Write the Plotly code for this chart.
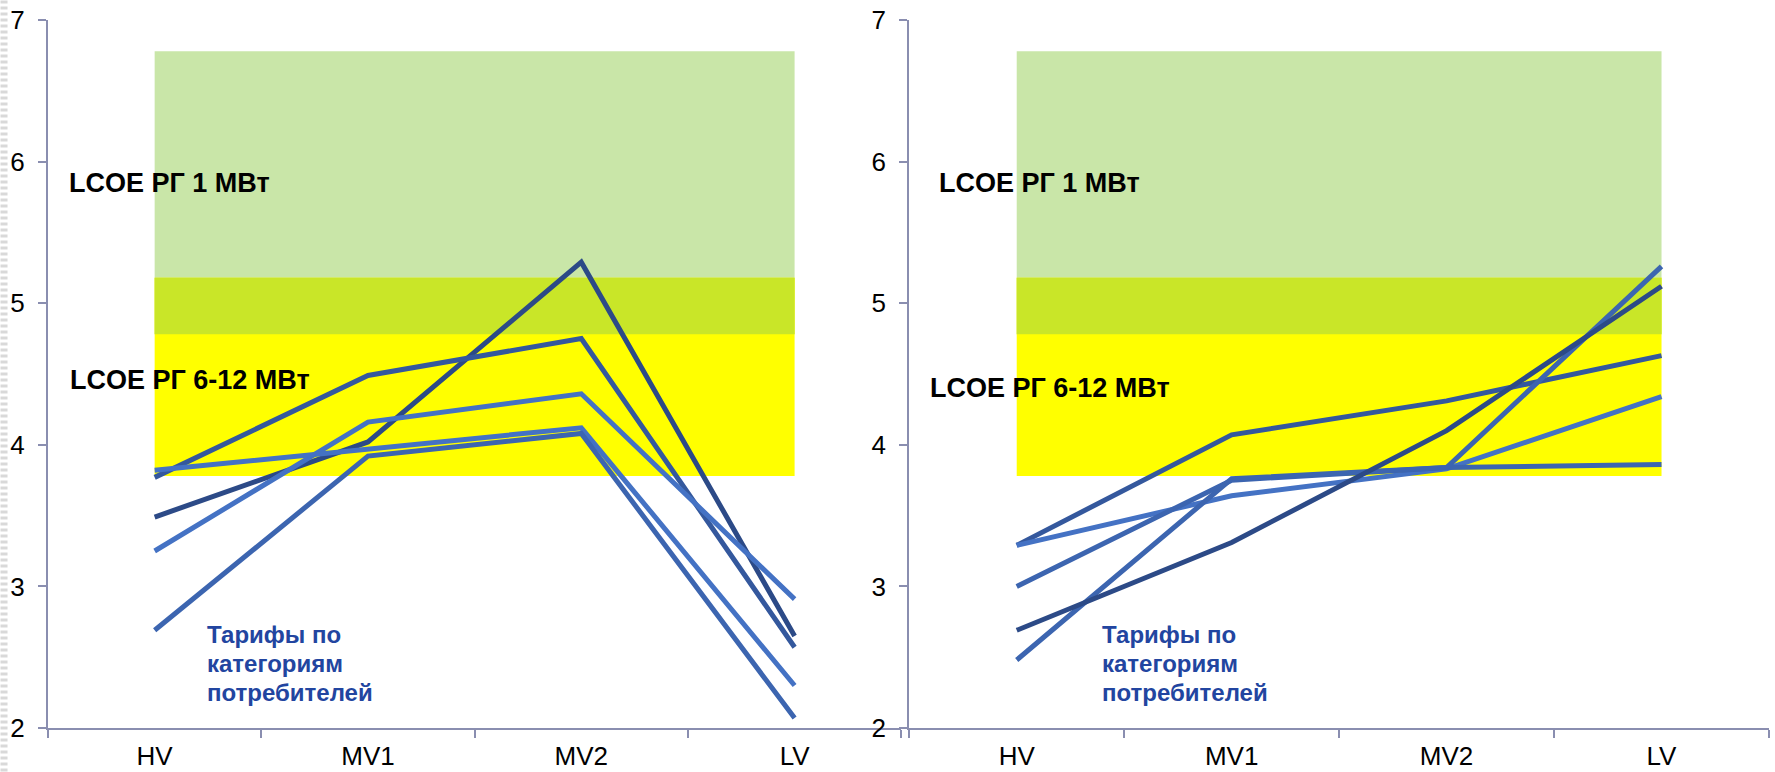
import plotly.graph_objects as go

# ---------------- data ----------------
categories = ["HV", "MV1", "MV2", "LV"]

# left panel tariffs
left_s1 = [3.49, 4.02, 5.29, 2.65]
left_s2 = [3.77, 4.49, 4.75, 2.57]
left_s3 = [3.25, 4.16, 4.36, 2.91]
left_s4 = [3.82, 3.97, 4.12, 2.30]
left_s5 = [2.69, 3.92, 4.08, 2.07]

# right panel tariffs
right_s1 = [3.29, 4.07, 4.31, 4.63]
right_s2 = [3.29, 3.64, 3.83, 4.34]
right_s3 = [3.00, 3.75, 3.84, 3.86]
right_s4 = [2.48, 3.76, 3.84, 5.26]
right_s5 = [2.69, 3.31, 4.10, 5.12]

# LCOE ranges
lcoe_1mw = [4.78, 6.78]
lcoe_6_12mw = [3.78, 5.18]

y_ticks = [2, 3, 4, 5, 6, 7]

tariff_lines = ["Тарифы по", "категориям", "потребителей"]
tariff_line_y = [2.66, 2.455, 2.25]

# ---------------- styling ----------------
FONT = "Liberation Sans, Arial, sans-serif"
AXIS_COLOR = "#8A8EB0"
C_NAVY = "#2C4A87"
C_DARK = "#34589D"
C_MED = "#3C65B0"
C_LIGHT = "#4472C4"
GREEN = "#C9E6A8"
OVERLAP = "#C9E628"
YELLOW = "#FFFF00"
BLUE_TEXT = "#2245A0"

W, H = 1775, 772
ML, MR, MT, MB = 47.5, 6, 20.4, 43.5
plot_w = W - ML - MR
left_dom = [0, (901 - ML) / plot_w]
right_dom = [(909 - ML) / plot_w, 1]

fig = go.Figure()

left_series = [(left_s1, C_NAVY), (left_s2, C_DARK), (left_s3, C_LIGHT),
               (left_s4, C_LIGHT), (left_s5, C_MED)]
right_series = [(right_s1, C_DARK), (right_s2, C_LIGHT), (right_s3, C_MED),
                (right_s4, C_MED), (right_s5, C_NAVY)]

for vals, col in left_series:
    fig.add_trace(go.Scatter(x=categories, y=vals, mode="lines",
                             line=dict(color=col, width=5),
                             xaxis="x", yaxis="y", showlegend=False,
                             hoverinfo="skip"))
for vals, col in right_series:
    fig.add_trace(go.Scatter(x=categories, y=vals, mode="lines",
                             line=dict(color=col, width=5),
                             xaxis="x2", yaxis="y2", showlegend=False,
                             hoverinfo="skip"))

shapes = []
ov_lo = max(lcoe_1mw[0], lcoe_6_12mw[0])
ov_hi = min(lcoe_1mw[1], lcoe_6_12mw[1])
for xr, yr in (("x", "y"), ("x2", "y2")):
    shapes.append(dict(type="rect", xref=xr, yref=yr, x0=categories[0], x1=categories[-1],
                       y0=lcoe_1mw[0], y1=lcoe_1mw[1], fillcolor=GREEN,
                       line=dict(width=0), layer="below"))
    shapes.append(dict(type="rect", xref=xr, yref=yr, x0=categories[0], x1=categories[-1],
                       y0=lcoe_6_12mw[0], y1=lcoe_6_12mw[1], fillcolor=YELLOW,
                       line=dict(width=0), layer="below"))
    shapes.append(dict(type="rect", xref=xr, yref=yr, x0=categories[0], x1=categories[-1],
                       y0=ov_lo, y1=ov_hi, fillcolor=OVERLAP,
                       line=dict(width=0), layer="below"))

# faint striped strip at the far left edge
ph = H - MT - MB
shapes.append(dict(type="line", xref="paper", yref="paper",
                   x0=(3.5 - ML) / plot_w, x1=(3.5 - ML) / plot_w,
                   y0=-MB / ph, y1=1 + MT / ph,
                   line=dict(color="#D9D9D9", width=7, dash="3px,3px")))

annotations = []
def label(text, xref, xdom, y, yref, size, color):
    annotations.append(dict(text=text, xref=xref, x=xdom, yref=yref, y=y,
                            xanchor="left", yanchor="middle", showarrow=False,
                            align="left",
                            font=dict(family=FONT, size=size, color=color)))

for xr, yr, x1, x612, y612, xt in (("x domain", "y", 0.022, 0.023, 4.46, 0.184),
                                    ("x2 domain", "y2", 0.032, 0.022, 4.40, 0.222)):
    label("<b>LCOE РГ 1 МВт</b>", xr, x1, 5.85, yr, 27, "black")
    label("<b>LCOE РГ 6-12 МВт</b>", xr, x612, y612, yr, 27, "black")
    for txt, ty in zip(tariff_lines, tariff_line_y):
        label("<b>" + txt + "</b>", xr, xt, ty, yr, 24, BLUE_TEXT)

xaxis_style = dict(type="category", categoryorder="array", categoryarray=categories,
                   range=[-0.5, 3.5], tickson="boundaries", ticks="outside", ticklen=8,
                   tickcolor=AXIS_COLOR, tickwidth=2, showline=True, linecolor=AXIS_COLOR,
                   linewidth=2, showgrid=False, zeroline=False, ticklabelstandoff=4,
                   automargin=False,
                   tickfont=dict(family=FONT, size=26, color="black"))
yaxis_style = dict(range=[2, 7], tickvals=y_ticks, ticks="outside", ticklen=8,
                   tickcolor=AXIS_COLOR, tickwidth=2, showline=True, linecolor=AXIS_COLOR,
                   linewidth=2, showgrid=False, zeroline=False, ticklabelstandoff=8,
                   automargin=False,
                   tickfont=dict(family=FONT, size=26, color="black"))

fig.update_layout(
    width=W, height=H,
    margin=dict(l=ML, r=MR, t=MT, b=MB, autoexpand=False),
    paper_bgcolor="white", plot_bgcolor="white",
    xaxis=dict(domain=left_dom, anchor="y", **xaxis_style),
    yaxis=dict(domain=[0, 1], anchor="x", **yaxis_style),
    xaxis2=dict(domain=right_dom, anchor="y2", **xaxis_style),
    yaxis2=dict(domain=[0, 1], anchor="x2", **yaxis_style),
    shapes=shapes, annotations=annotations, showlegend=False,
)

fig.write_html("out.html", config={"displayModeBar": False},
               post_script="document.body.style.margin='0';document.body.style.overflow='hidden';")
